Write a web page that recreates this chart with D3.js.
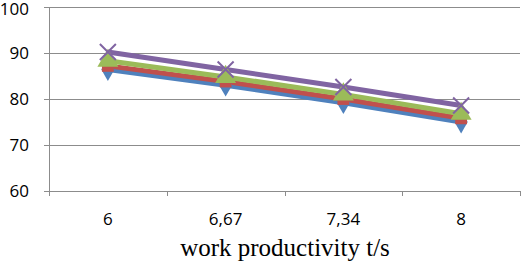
<!DOCTYPE html>
<html>
<head>
<meta charset="utf-8">
<script src="https://cdn.jsdelivr.net/npm/d3@7"></script>
<style>
  body { margin: 0; background: #fff; }
  svg { display: block; }
  .tick-label { font-family: "Open Sans", "Liberation Sans", sans-serif; font-size: 17px; fill: #000; }
  .axis-title { font-family: "Liberation Serif", "Times New Roman", serif; font-size: 25px; fill: #000; }
</style>
</head>
<body>
<div id="chart"></div>
<script>
// chart values
var categories = ["6", "6,67", "7,34", "8"];
var yTicks = [60, 70, 80, 90, 100];
var seriesNames = ["s1", "s2", "s3", "s4"];
var blueValues = [86.4, 83.0, 79.2, 75.0];
var redValues = [87.2, 83.8, 80.0, 75.8];
var greenValues = [88.3, 84.8, 81.0, 76.8];
var purpleValues = [90.2, 86.4, 82.6, 78.6];

var seriesList = [
  { name: seriesNames[0], values: blueValues, color: "#4F81BD", marker: "diamond" },
  { name: seriesNames[1], values: redValues, color: "#C0504D", marker: "square" },
  { name: seriesNames[2], values: greenValues, color: "#9BBB59", marker: "triangle" },
  { name: seriesNames[3], values: purpleValues, color: "#8064A2", marker: "x" }
];

var width = 522, height = 265;
var margin = { top: 7, right: 2, bottom: 74, left: 49 };
var innerW = width - margin.left - margin.right;
var innerH = height - margin.top - margin.bottom;

var svg = d3.select("#chart").append("svg")
  .attr("width", width)
  .attr("height", height);

var g = svg.append("g")
  .attr("transform", "translate(" + margin.left + "," + margin.top + ")");

var x = d3.scaleBand().domain(categories).range([0, innerW]);
var y = d3.scaleLinear().domain([60, 100]).range([innerH, 0]);

// gridlines
g.selectAll(".grid").data(yTicks).enter().append("line")
  .attr("x1", -5).attr("x2", innerW)
  .attr("y1", function(d) { return Math.round(y(d)) + 0.5; })
  .attr("y2", function(d) { return Math.round(y(d)) + 0.5; })
  .attr("stroke", "#8c8c8c").attr("stroke-width", 1);

// y axis line
g.append("line")
  .attr("x1", 0.5).attr("x2", 0.5)
  .attr("y1", y(100)).attr("y2", y(60) + 5)
  .attr("stroke", "#8c8c8c");

// x ticks at band edges
var edges = categories.map(function(c) { return x(c); }).concat([innerW]);
g.selectAll(".xtick").data(edges).enter().append("line")
  .attr("x1", function(d) { return Math.round(d) + 0.5; })
  .attr("x2", function(d) { return Math.round(d) + 0.5; })
  .attr("y1", y(60)).attr("y2", y(60) + 5)
  .attr("stroke", "#8c8c8c");

// y labels
g.selectAll(".ylab").data(yTicks).enter().append("text")
  .attr("class", "tick-label")
  .attr("x", -20)
  .attr("y", function(d) { return y(d) + (d === 100 ? 2 : 0); })
  .attr("dy", "0.35em")
  .attr("text-anchor", "end")
  .text(function(d) { return d; });

// x labels
g.selectAll(".xlab").data(categories).enter().append("text")
  .attr("class", "tick-label")
  .attr("x", function(d) { return x(d) + x.bandwidth() / 2; })
  .attr("y", innerH + 28)
  .attr("dy", "0.35em")
  .attr("text-anchor", "middle")
  .text(function(d) { return d; });

// axis title
svg.append("text")
  .attr("class", "axis-title")
  .attr("x", 285)
  .attr("y", 256)
  .attr("text-anchor", "middle")
  .text("work productivity t/s");

var line = d3.line()
  .x(function(d, i) { return x(categories[i]) + x.bandwidth() / 2; })
  .y(function(d) { return y(d); });

seriesList.forEach(function(s) {
  g.append("path")
    .datum(s.values)
    .attr("fill", "none")
    .attr("stroke", s.color)
    .attr("stroke-width", 5)
    .attr("d", line);
});

var symbolMap = {
  diamond: d3.symbolDiamond,
  square: d3.symbolSquare,
  triangle: d3.symbolTriangle
};

seriesList.forEach(function(s) {
  var pts = g.selectAll(null).data(s.values).enter().append("g")
    .attr("transform", function(d, i) {
      return "translate(" + (x(categories[i]) + x.bandwidth() / 2) + "," + y(d) + ")";
    });
  if (s.marker === "x") {
    pts.append("path")
      .attr("d", "M-8,-8L8,8M-8,8L8,-8")
      .attr("stroke", s.color)
      .attr("stroke-width", 2)
      .attr("fill", "none");
  } else {
    var sz = s.marker === "triangle" ? 190 : (s.marker === "square" ? 140 : 150);
    pts.append("path")
      .attr("d", d3.symbol().type(symbolMap[s.marker]).size(sz))
      .attr("fill", s.color);
  }
});
</script>
</body>
</html>
